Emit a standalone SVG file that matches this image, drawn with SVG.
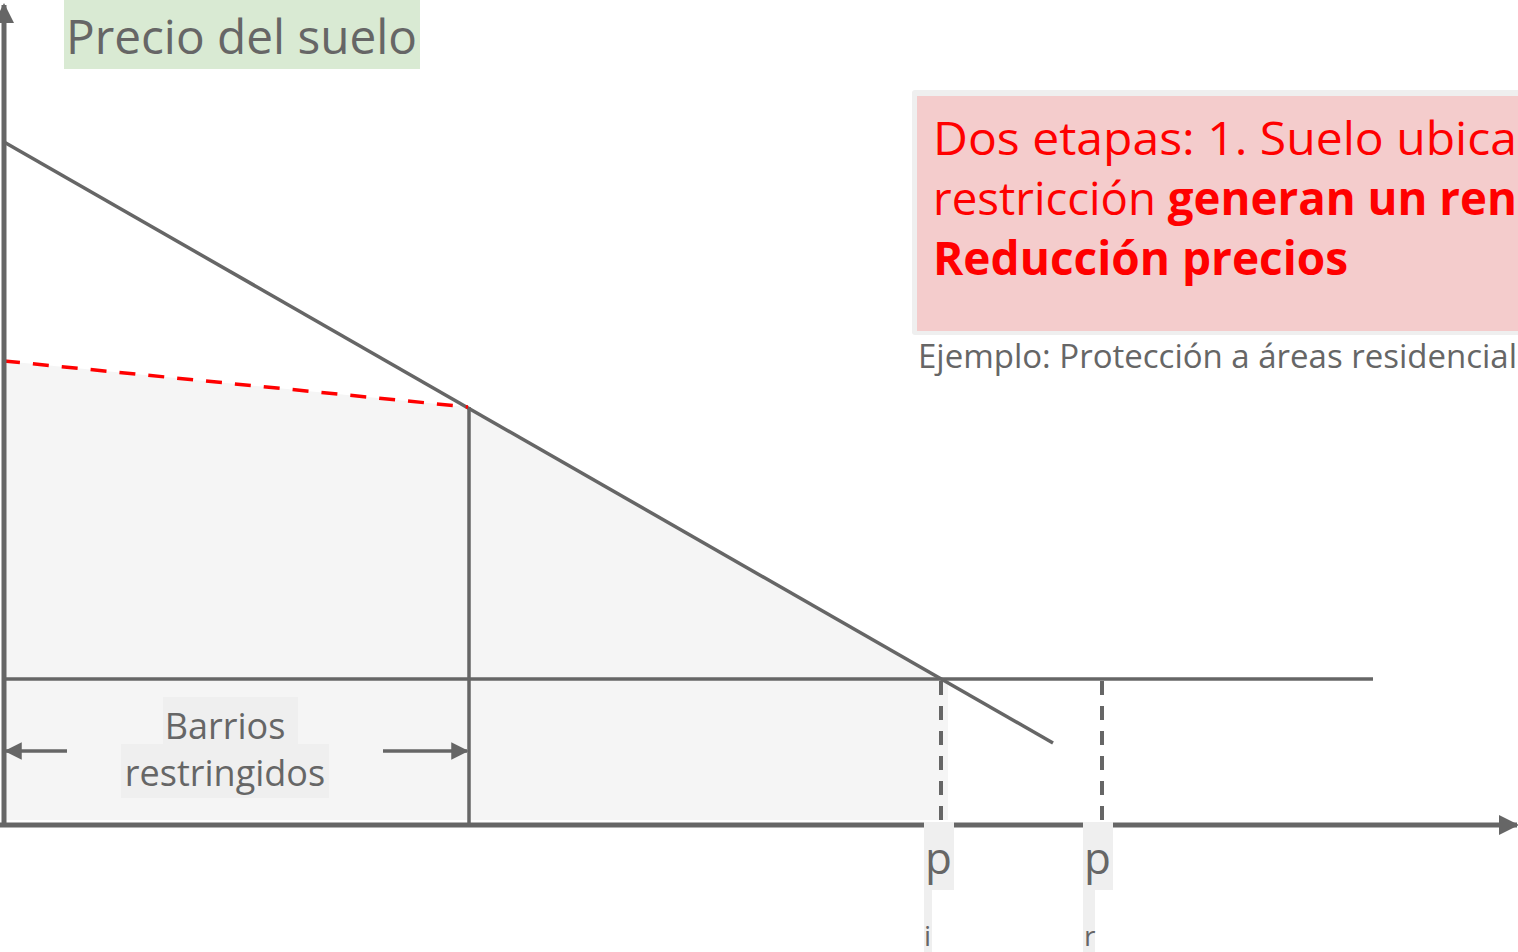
<svg xmlns="http://www.w3.org/2000/svg" width="1518" height="952" viewBox="0 0 1518 952">
<defs>
<style>
.ax{stroke:#666;stroke-width:5;fill:none}
.ln{stroke:#666;stroke-width:3.5;fill:none}
.dash{stroke:#666;stroke-width:4;fill:none;stroke-dasharray:14 11}
.red{stroke:#f00;stroke-width:3.5;fill:none;stroke-dasharray:16 13}
.t{font-family:"Open Sans","Noto Sans",sans-serif;fill:#666}
.r{font-family:"Open Sans","Noto Sans",sans-serif;fill:#f00}
.lbg{fill:#efefef}
</style>
<marker id="ah" viewBox="0 0 10 10" refX="9" refY="5" markerWidth="4" markerHeight="4" orient="auto-start-reverse" markerUnits="strokeWidth">
<path d="M0,0 L10,5 L0,10 z" fill="#666"/>
</marker>
<marker id="ah2" viewBox="0 0 10 10" refX="9" refY="5" markerWidth="5" markerHeight="5" orient="auto-start-reverse" markerUnits="strokeWidth">
<path d="M0,0 L10,5 L0,10 z" fill="#666"/>
</marker>
</defs>
<rect width="1518" height="952" fill="#fff"/>
<g id="area">
<polygon points="4,361 468,407 942,680 948,680 948,820 4,820" fill="#f5f5f5"/>
</g>
<g id="connectors">
<line class="ln" x1="4" y1="679" x2="1373" y2="679"/>
<line class="ln" x1="469" y1="407" x2="469" y2="825"/>
<line class="ln" x1="4" y1="142" x2="1053" y2="743"/>
<line class="red" x1="4" y1="361" x2="468" y2="407"/>
<line class="dash" x1="941" y1="681" x2="941" y2="822"/>
<line class="dash" x1="1102" y1="681" x2="1102" y2="822"/>
<line class="ln" x1="67" y1="751" x2="6" y2="751" marker-end="url(#ah2)"/>
<line class="ln" x1="383" y1="751" x2="467" y2="751" marker-end="url(#ah2)"/>
<line class="ax" x1="4" y1="827" x2="4" y2="5" marker-end="url(#ah)"/>
<line class="ax" x1="0" y1="825" x2="1517" y2="825" marker-end="url(#ah)"/>
</g>
<g id="title">
<rect x="64" y="0" width="356" height="69" fill="#d9ead3"/>
<text class="t" x="66" y="54" font-size="47" textLength="351" lengthAdjust="spacingAndGlyphs">Precio del suelo</text>
</g>
<g id="barrios">
<rect class="lbg" x="163" y="697" width="135" height="48"/>
<rect class="lbg" x="121" y="744" width="208" height="54"/>
<text class="t" x="225" y="739" font-size="36" text-anchor="middle">Barrios</text>
<text class="t" x="225" y="786" font-size="36" text-anchor="middle">restringidos</text>
</g>
<g id="pi">
<rect class="lbg" x="924" y="822" width="30" height="68"/>
<rect class="lbg" x="924" y="889" width="8" height="63"/>
<text class="t" x="925" y="874" font-size="44">p</text>
<text class="t" x="924" y="946" font-size="28">i</text>
</g>
<g id="pr">
<rect class="lbg" x="1083" y="822" width="30" height="68"/>
<rect class="lbg" x="1083" y="889" width="12" height="63"/>
<text class="t" x="1084" y="874" font-size="44">p</text>
<text class="t" x="1084" y="946" font-size="28">r</text>
</g>
<g id="note">
<rect x="912" y="90" width="620" height="245" rx="3" fill="#efefef"/>
<rect x="917" y="96" width="610" height="235" fill="#f4cccc"/>
<text class="r" x="933" y="155" font-size="46" textLength="584" lengthAdjust="spacingAndGlyphs">Dos etapas: 1. Suelo ubica</text>
<text class="r" x="933" y="215" font-size="46" textLength="584" lengthAdjust="spacingAndGlyphs">restricción <tspan font-weight="bold">generan un ren</tspan></text>
<text class="r" x="933" y="275" font-size="46" font-weight="bold">Reducción precios</text>
<text class="t" x="918" y="368" font-size="32" textLength="599" lengthAdjust="spacingAndGlyphs">Ejemplo: Protección a áreas residencial</text>
</g>
</svg>
